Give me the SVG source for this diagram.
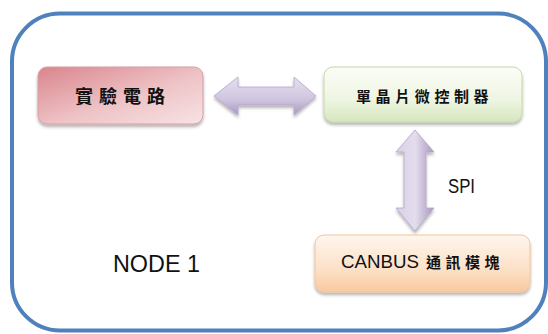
<svg xmlns="http://www.w3.org/2000/svg" width="548" height="334" viewBox="0 0 548 334">
  <defs>
    <linearGradient id="gPink" x1="0" y1="0" x2="1" y2="1">
      <stop offset="0" stop-color="#d9858c"/>
      <stop offset="0.55" stop-color="#eec3c6"/>
      <stop offset="1" stop-color="#f7e3e4"/>
    </linearGradient>
    <linearGradient id="gGreen" x1="0" y1="0" x2="0" y2="1">
      <stop offset="0" stop-color="#fbfdf7"/>
      <stop offset="0.6" stop-color="#eef5e2"/>
      <stop offset="1" stop-color="#d6e6bd"/>
    </linearGradient>
    <linearGradient id="gOrange" x1="0" y1="0" x2="0" y2="1">
      <stop offset="0" stop-color="#fef6ee"/>
      <stop offset="0.6" stop-color="#fce1c8"/>
      <stop offset="1" stop-color="#f8c99e"/>
    </linearGradient>
    <linearGradient id="gArrowH" x1="0" y1="0" x2="0" y2="1">
      <stop offset="0" stop-color="#e6e0ef"/>
      <stop offset="0.6" stop-color="#cfc4df"/>
      <stop offset="1" stop-color="#a898c0"/>
    </linearGradient>
    <linearGradient id="gArrowV" x1="0" y1="0" x2="1" y2="0">
      <stop offset="0" stop-color="#d8cfe6"/>
      <stop offset="0.5" stop-color="#e4ddee"/>
      <stop offset="1" stop-color="#a898c0"/>
    </linearGradient>
    <filter id="sh" x="-10%" y="-20%" width="120%" height="150%">
      <feDropShadow dx="0" dy="2.5" stdDeviation="1.5" flood-color="#000" flood-opacity="0.3"/>
    </filter>
  </defs>
  <style>
    .box { stroke-width: 1; filter: url(#sh); }
    .cjk { font-family: "Noto Sans CJK TC", "Noto Sans CJK SC", sans-serif; fill: #111; }
    .lat { font-family: "Liberation Sans", Arial, sans-serif; fill: #111; }
    .arrow { stroke: #b3a5c8; stroke-width: 0.8; filter: url(#sh); }
  </style>

  <rect id="frame" x="12" y="13.5" width="534" height="317" rx="48" ry="48" fill="#fff" stroke="#4f81bd" stroke-width="4"/>

  <g id="connectors">
    <path class="arrow" fill="url(#gArrowH)" d="M214,96 L238,77 L238,87 L294,87 L294,77 L316,96 L294,115 L294,105 L238,105 L238,115 Z"/>
    <path class="arrow" fill="url(#gArrowV)" d="M415,130 L434,152 L426,152 L426,208 L434,208 L415,231 L396,208 L404,208 L404,152 L396,152 Z"/>
    <text class="lat" x="448" y="193" font-size="20" textLength="27" lengthAdjust="spacingAndGlyphs">SPI</text>
  </g>

  <g id="node-experiment">
    <rect class="box" x="38" y="67" width="165" height="57" rx="9" fill="url(#gPink)" stroke="#d79da1"/>
    <text class="cjk" x="75" y="103" font-size="18" letter-spacing="6" font-weight="bold">實驗電路</text>
  </g>

  <g id="node-mcu">
    <rect class="box" x="324" y="67" width="198" height="55" rx="9" fill="url(#gGreen)" stroke="#c6d9a3"/>
    <text class="cjk" x="356" y="102" font-size="15" letter-spacing="4.6" font-weight="bold">單晶片微控制器</text>
  </g>

  <g id="node-canbus">
    <rect class="box" x="315" y="235" width="215" height="57" rx="9" fill="url(#gOrange)" stroke="#f3c498"/>
    <text x="341" y="268" font-size="18.5"><tspan class="lat" textLength="78" lengthAdjust="spacingAndGlyphs">CANBUS</tspan><tspan class="cjk" x="426" font-size="15" letter-spacing="4.5" font-weight="bold">通訊模塊</tspan></text>
  </g>

  <g id="label-node1">
    <text class="lat" x="113" y="271.5" font-size="24" textLength="87" lengthAdjust="spacingAndGlyphs">NODE 1</text>
  </g>
</svg>
